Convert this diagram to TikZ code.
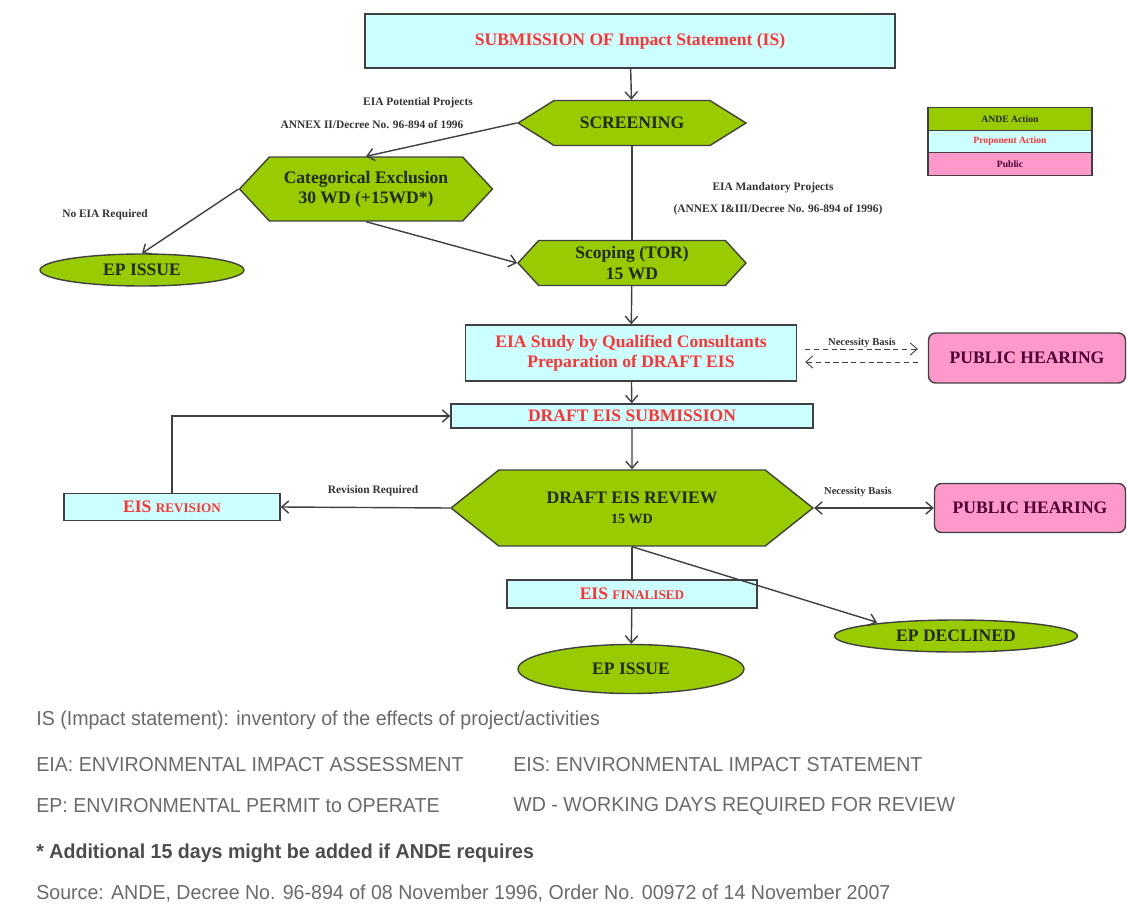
\documentclass[tikz,border=0pt]{standalone}
\usepackage{fontspec}
\setmainfont{Liberation Serif}
\newfontfamily\notefont[FakeStretch=0.97]{Liberation Sans}
\usetikzlibrary{arrows.meta,shapes.geometric,shapes.symbols}

\definecolor{andegreen}{HTML}{99CC00}
\definecolor{propcyan}{HTML}{CCFFFF}
\definecolor{pubpink}{HTML}{FF99CC}
\definecolor{txtred}{HTML}{FF3333}
\definecolor{pubtxt}{HTML}{4D0033}
\definecolor{andetxt}{HTML}{1F2A00}
\definecolor{edgegray}{HTML}{404040}
\definecolor{notegray}{HTML}{6A6A6A}

\tikzset{
  andehex/.style={shape=signal, signal to=east and west, draw=edgegray, line width=0.8pt,
    fill=andegreen, text=andetxt, font=\bfseries\fontsize{10}{11.5}\selectfont, align=center, inner sep=0pt},
  andeoval/.style={ellipse, draw=edgegray, line width=0.8pt, fill=andegreen, text=andetxt,
    font=\bfseries\fontsize{10}{11.5}\selectfont, inner sep=0pt},
  propbox/.style={rectangle, draw=edgegray, line width=0.8pt, fill=propcyan, text=txtred,
    font=\bfseries\fontsize{10}{11.5}\selectfont, align=center, inner sep=0pt},
  pubbox/.style={rectangle, rounded corners=4pt, draw=edgegray, line width=0.8pt, fill=pubpink,
    text=pubtxt, font=\bfseries\fontsize{10}{11.5}\selectfont, inner sep=0pt},
  legbox/.style={rectangle, draw=edgegray, line width=0.6pt, minimum width=3.28cm,
    minimum height=0.447cm, font=\bfseries\fontsize{5.5}{6}\selectfont, inner sep=0pt},
  flow/.style={draw=edgegray, line width=0.8pt, -{Straight Barb[length=4pt,width=7pt]}},
  lbl/.style={font=\bfseries\fontsize{6.5}{8}\selectfont, text=black!80, inner sep=0pt},
  note/.style={anchor=west, inner sep=0pt, text=notegray, font=\notefont\fontsize{11.5}{13}\selectfont}
}

\begin{document}
\begin{tikzpicture}[x=0.02cm,y=-0.02cm]
  \useasboundingbox (0,0) rectangle (1127,923);

  % main column
  \node[propbox, minimum width=10.6cm, minimum height=1.08cm] (sub) at (630,41) {SUBMISSION OF Impact Statement (IS)};
  \node[andehex, minimum width=4.56cm, minimum height=0.9cm, signal pointer angle=64] (scr) at (632,123) {SCREENING};
  \node[andehex, minimum width=5.06cm, minimum height=1.28cm, signal pointer angle=94] (cat) at (366,189) {Categorical Exclusion\\30 WD (+15WD*)};
  \node[andeoval, minimum width=4.08cm, minimum height=0.64cm] (epi1) at (142,270) {EP ISSUE};
  \node[andehex, minimum width=4.56cm, minimum height=0.9cm, signal pointer angle=95] (scp) at (632,263) {Scoping (TOR)\\15 WD};
  \node[propbox, minimum width=6.62cm, minimum height=1.12cm] (eia) at (631,353) {EIA Study by Qualified Consultants\\Preparation of DRAFT EIS};
  \node[pubbox, minimum width=3.94cm, minimum height=1.0cm] (ph1) at (1027,358) {PUBLIC HEARING};
  \node[propbox, minimum width=7.24cm, minimum height=0.48cm] (sub2) at (632,416) {DRAFT EIS SUBMISSION};
  \node[andehex, minimum width=7.24cm, minimum height=1.52cm, signal pointer angle=77] (rev) at (632,508) {DRAFT EIS REVIEW\\{\fontsize{8}{9}\selectfont 15 WD}};
  \node[propbox, minimum width=4.32cm, minimum height=0.54cm] (revis) at (172,507) {EIS {\fontsize{7.5}{9}\selectfont REVISION}};
  \node[pubbox, minimum width=3.82cm, minimum height=0.98cm] (ph2) at (1030,508) {PUBLIC HEARING};
  \node[propbox, minimum width=5.0cm, minimum height=0.56cm] (fin) at (632,594) {EIS {\fontsize{7.5}{9}\selectfont FINALISED}};
  \node[andeoval, minimum width=4.52cm, minimum height=0.98cm] (epi2) at (631,669) {EP ISSUE};
  \node[andeoval, minimum width=4.86cm, minimum height=0.64cm] (epd) at (956,636) {EP DECLINED};

  % legend
  \node[legbox, fill=andegreen, text=andetxt] (lg1) at (1010,119) {ANDE Action};
  \node[legbox, fill=propcyan, text=txtred] (lg2) at (1010,141.5) {Proponent Action};
  \node[legbox, fill=pubpink, text=pubtxt] (lg3) at (1010,164) {Public};

  % connectors
  \draw[flow] (sub) -- (scr);
  \draw[flow] (scr.west) -- (cat.north);
  \draw[flow] (cat.west) -- (epi1.north);
  \draw[flow] (cat.south) -- (scp.west);
  \draw[draw=edgegray, line width=0.8pt] (scr.south) -- (scp.north);
  \draw[flow] (scp) -- (eia);
  \draw[flow, line width=0.5pt, densely dashed] ([shift={(8,-4)}]eia.east) -- ([shift={(-10,-9)}]ph1.west);
  \draw[flow, line width=0.5pt, densely dashed] ([shift={(-10,4)}]ph1.west) -- ([shift={(8,9)}]eia.east);
  \draw[flow] (eia) -- (sub2);
  \draw[flow] (sub2) -- (rev);
  \draw[flow] (rev.west) -- (revis.east);
  \draw[flow] (revis.north) |- (sub2.west);
  \draw[flow, {Straight Barb[length=4pt,width=7pt]}-{Straight Barb[length=4pt,width=7pt]}] (rev.east) -- (ph2.west);
  \draw[draw=edgegray, line width=0.8pt] (rev.south) -- (fin.north);
  \draw[flow] (fin) -- (epi2);
  \draw[flow] (rev.south) -- ([shift={(-79,3)}]epd.north);

  % labels
  \node[lbl] (l1) at (418,103) {EIA Potential Projects};
  \node[lbl] (l2) at (372,125) {ANNEX II/Decree No. 96-894 of 1996};
  \node[lbl] (l3) at (105,215) {No EIA Required};
  \node[lbl] (l4) at (773,188) {EIA Mandatory Projects};
  \node[lbl] (l5) at (778,210) {(ANNEX I\&III/Decree No. 96-894 of 1996)};
  \node[lbl, font=\bfseries\fontsize{6}{7}\selectfont] (l6) at (862,343) {Necessity Basis};
  \node[lbl] (l7) at (373,491) {Revision Required};
  \node[lbl, font=\bfseries\fontsize{6}{7}\selectfont] (l8) at (858,492) {Necessity Basis};

  % notes
  \node[note] (n1) at (36,720) {IS (Impact statement): inventory of the effects of project/activities};
  \node[note] (n2) at (36,765) {EIA: ENVIRONMENTAL IMPACT ASSESSMENT};
  \node[note] (n3) at (513,765) {EIS: ENVIRONMENTAL IMPACT STATEMENT};
  \node[note] (n4) at (36,806) {EP: ENVIRONMENTAL PERMIT to OPERATE};
  \node[note] (n5) at (513,806) {WD - WORKING DAYS REQUIRED FOR REVIEW};
  \node[note, text=black!70, font=\notefont\bfseries\fontsize{11.5}{13}\selectfont] (n6) at (36,853) {* Additional 15 days might be added if ANDE requires};
  \node[note] (n7) at (36,893) {Source: ANDE, Decree No. 96-894 of 08 November 1996, Order No. 00972 of 14 November 2007};
\end{tikzpicture}
\end{document}
